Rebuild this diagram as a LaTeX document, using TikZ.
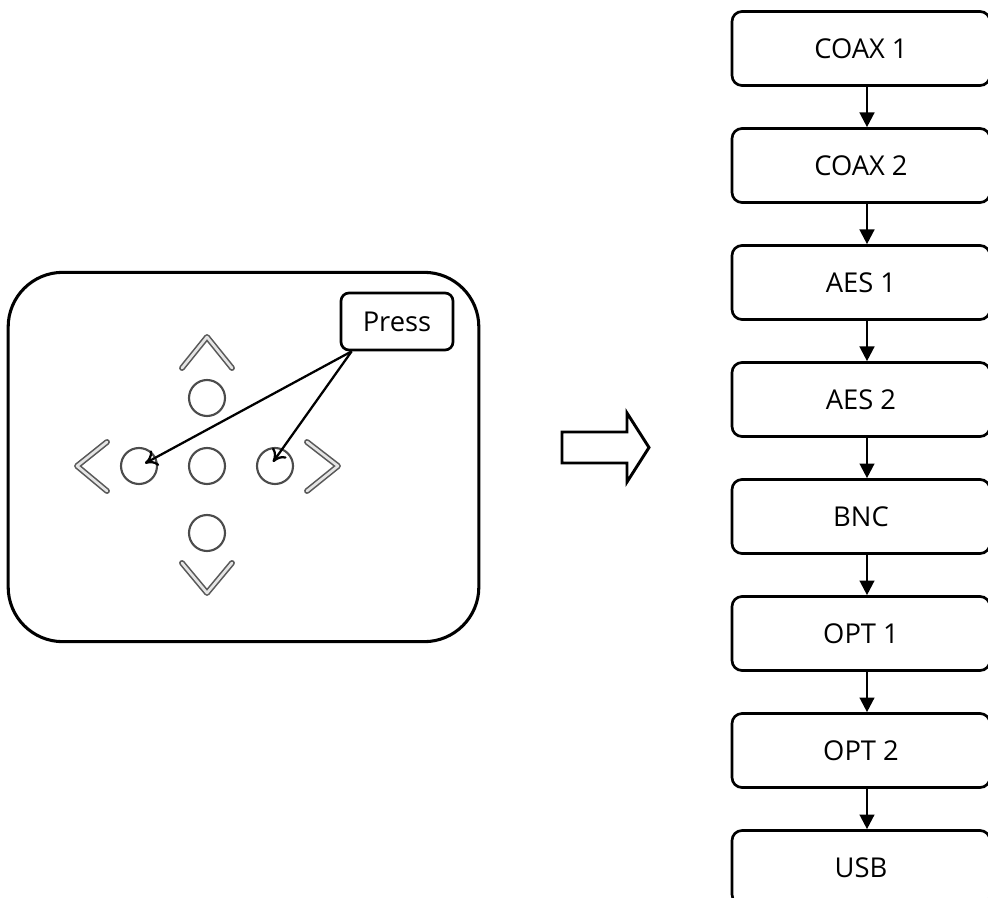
\documentclass[tikz,border=0pt]{standalone}
\usepackage{fontspec}
\setmainfont{Open Sans}
\usetikzlibrary{positioning,arrows.meta,calc}

\begin{document}
\begin{tikzpicture}[x=0.75pt,y=-0.75pt,
  every node/.style={font=\fontsize{20.5}{24}\selectfont},
  srcbox/.style={draw,line width=2pt,rounded corners=7.5pt,minimum width=193.5pt,minimum height=55.5pt,inner sep=0pt},
  key/.style={draw=black!70,line width=1.6pt,circle,minimum size=27pt,inner sep=0pt},
  chev/.style={draw=black!65,line width=1.2pt,double=white!90!black,double distance=2pt,line cap=round,line join=round},
  next/.style={-{Triangle[length=11pt,width=11pt]},line width=1.8pt},
  pressarrow/.style={-{To[length=9pt,width=13pt]},line width=1.7pt}]
\useasboundingbox (0,0) rectangle (988,898);

% keypad panel
\node [draw,line width=2.3pt,rounded corners=41pt,minimum width=353pt,minimum height=277pt] (Panel) at (243.5,457) {};
\node [key] (KeyC) at (207,466) {};
\node [key] (KeyL) at (139,466) {};
\node [key] (KeyR) at (275,466) {};
\node [key] (KeyU) at (207,398) {};
\node [key] (KeyD) at (207,533) {};
\draw [chev] (182,368) -- (207,337) -- (232,368);
\draw [chev] (182,563) -- (207,593) -- (232,563);
\draw [chev] (107,442) -- (77,466) -- (107,491);
\draw [chev] (307,442) -- (338,466) -- (307,491);
\node [draw,line width=2pt,rounded corners=6pt,minimum width=84pt,minimum height=42.75pt] (Press) at (397,321.5) {Press};
\draw [pressarrow] ([xshift=9pt]Press.south west) -- ([xshift=4.5pt,yshift=2pt]KeyL.center);
\draw [pressarrow] ([xshift=9pt]Press.south west) -- ([xshift=-1.5pt,yshift=3pt]KeyR.center);

% big arrow
\draw [line width=2.2pt] (562,432) -- (627,432) -- (627,413) -- (649,447.5) -- (627,482) -- (627,463) -- (562,463) -- cycle;

% input order
\node [srcbox] (Coax1) at (861,48.5) {COAX 1};
\node [srcbox,below=30.25pt of Coax1] (Coax2) {COAX 2};
\node [srcbox,below=30.25pt of Coax2] (Aes1) {AES 1};
\node [srcbox,below=30.25pt of Aes1] (Aes2) {AES 2};
\node [srcbox,below=30.25pt of Aes2] (Bnc) {BNC};
\node [srcbox,below=30.25pt of Bnc] (Opt1) {OPT 1};
\node [srcbox,below=30.25pt of Opt1] (Opt2) {OPT 2};
\node [srcbox,below=30.25pt of Opt2] (Usb) {USB};
\draw [next] ([xshift=4.5pt]Coax1.south) -- ([xshift=4.5pt]Coax2.north);
\draw [next] ([xshift=4.5pt]Coax2.south) -- ([xshift=4.5pt]Aes1.north);
\draw [next] ([xshift=4.5pt]Aes1.south) -- ([xshift=4.5pt]Aes2.north);
\draw [next] ([xshift=4.5pt]Aes2.south) -- ([xshift=4.5pt]Bnc.north);
\draw [next] ([xshift=4.5pt]Bnc.south) -- ([xshift=4.5pt]Opt1.north);
\draw [next] ([xshift=4.5pt]Opt1.south) -- ([xshift=4.5pt]Opt2.north);
\draw [next] ([xshift=4.5pt]Opt2.south) -- ([xshift=4.5pt]Usb.north);
\end{tikzpicture}
\end{document}
